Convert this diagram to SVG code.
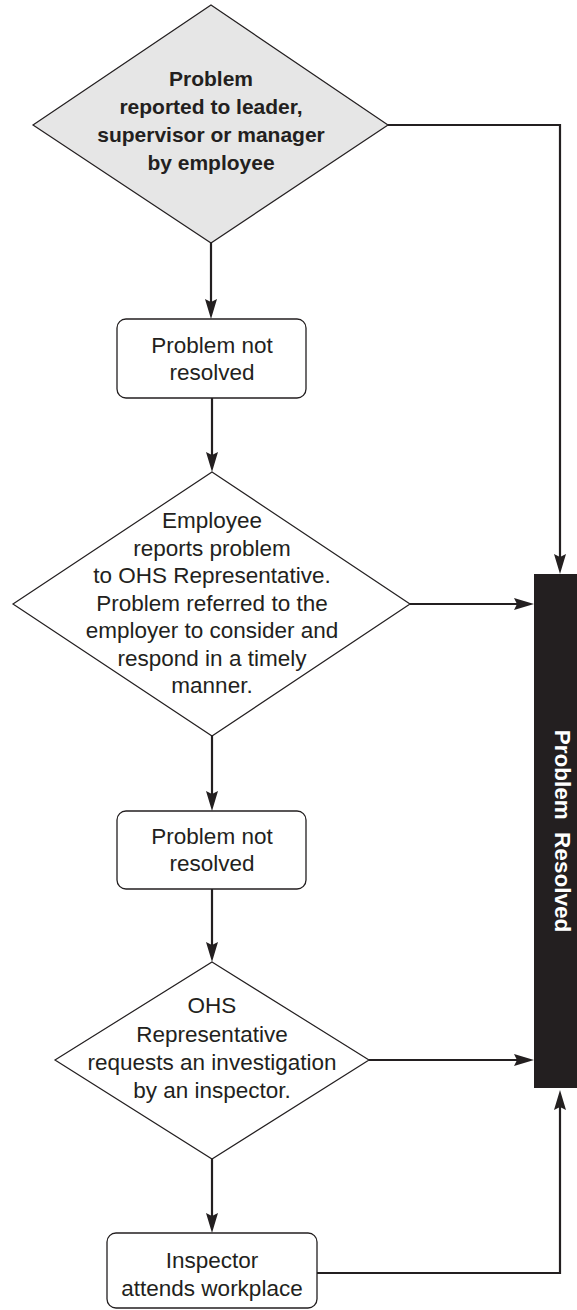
<svg xmlns="http://www.w3.org/2000/svg" width="577" height="1310" viewBox="0 0 577 1310">
  <style>
    .shape { fill: #ffffff; stroke: #231f20; stroke-width: 1.2; }
    .start { fill: #e6e6e6; stroke: #231f20; stroke-width: 1.2; }
    .box { fill: #ffffff; stroke: #231f20; stroke-width: 1.3; }
    .txt { font-family: "Liberation Sans", Arial, sans-serif; font-size: 22.5px; fill: #231f20; text-anchor: middle; }
    .bold { font-family: "Liberation Sans", Arial, sans-serif; font-size: 21px; font-weight: bold; fill: #231f20; text-anchor: middle; }
    .end-label { font-family: "Liberation Sans", Arial, sans-serif; font-size: 22.5px; font-weight: bold; fill: #ffffff; text-anchor: middle; word-spacing: 6px; }
    .link { fill: none; stroke: #231f20; stroke-width: 2.2; marker-end: url(#arrow); }
  </style>
  <defs>
    <marker id="arrow" markerUnits="userSpaceOnUse" viewBox="-11 -7 22 14" refX="0" refY="0" markerWidth="22" markerHeight="14" orient="auto" overflow="visible">
      <path d="M-10,-6 L10,0 L-10,6 L-7,0 Z" fill="#231f20"/>
    </marker>
  </defs>

  <!-- connectors -->
  <g id="connectors">
    <path class="link" d="M211,243 V309"/>
    <path class="link" d="M212,398 V462"/>
    <path class="link" d="M212,736 V801"/>
    <path class="link" d="M212,889 V952"/>
    <path class="link" d="M212,1159 V1223"/>
    <path class="link" d="M388,125 H560 V564"/>
    <path class="link" d="M410,604 H524"/>
    <path class="link" d="M369,1060 H524"/>
    <path class="link" d="M317,1273 H560 V1100"/>
  </g>

  <!-- start: problem reported -->
  <g id="reported">
    <polygon class="start" points="211,5 388,125 211,243 33,125"/>
    <text class="bold" x="211" y="85.5">Problem</text>
    <text class="bold" x="211" y="113.5">reported to leader,</text>
    <text class="bold" x="211" y="141.5">supervisor or manager</text>
    <text class="bold" x="211" y="169.5">by employee</text>
  </g>

  <g id="not-resolved-1">
    <rect class="box" x="117" y="319" width="189" height="79" rx="9"/>
    <text class="txt" x="212" y="353">Problem not</text>
    <text class="txt" x="212" y="380">resolved</text>
  </g>

  <g id="ohs-rep">
    <polygon class="shape" points="212,472 410,604 212,736 13,604"/>
    <text class="txt" x="212" y="528">Employee</text>
    <text class="txt" x="212" y="555.5">reports problem</text>
    <text class="txt" x="212" y="583">to OHS Representative.</text>
    <text class="txt" x="212" y="610.5">Problem referred to the</text>
    <text class="txt" x="212" y="638">employer to consider and</text>
    <text class="txt" x="212" y="665.5">respond in a timely</text>
    <text class="txt" x="212" y="693">manner.</text>
  </g>

  <g id="not-resolved-2">
    <rect class="box" x="117" y="811" width="189" height="78" rx="9"/>
    <text class="txt" x="212" y="844">Problem not</text>
    <text class="txt" x="212" y="871">resolved</text>
  </g>

  <g id="investigation">
    <polygon class="shape" points="212,962 369,1060 212,1159 55,1060"/>
    <text class="txt" x="212" y="1013">OHS</text>
    <text class="txt" x="212" y="1042">Representative</text>
    <text class="txt" x="212" y="1070">requests an investigation</text>
    <text class="txt" x="212" y="1098">by an inspector.</text>
  </g>

  <g id="inspector">
    <rect class="box" x="107" y="1233" width="210" height="75" rx="9"/>
    <text class="txt" x="212" y="1268">Inspector</text>
    <text class="txt" x="212" y="1296">attends workplace</text>
  </g>

  <g id="resolved">
    <rect x="534" y="574" width="43" height="514" fill="#231f20"/>
    <text class="end-label" transform="translate(555,831) rotate(90)" x="0" y="0">Problem Resolved</text>
  </g>
</svg>
